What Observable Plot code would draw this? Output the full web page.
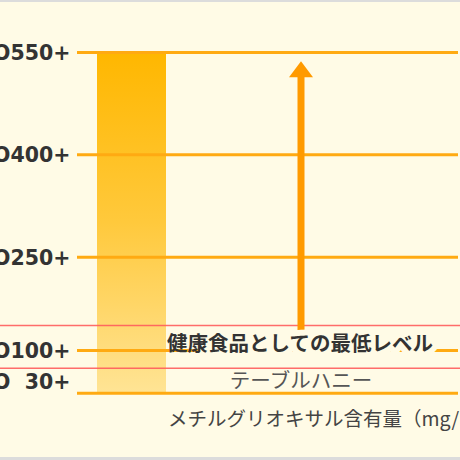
<!DOCTYPE html>
<html><head><meta charset="utf-8">
<script src="https://cdn.jsdelivr.net/npm/d3@7"></script>
<script src="https://cdn.jsdelivr.net/npm/@observablehq/plot@0.6"></script>
<style>
html,body{margin:0;padding:0;background:#dcdcdc;width:460px;height:460px;overflow:hidden}
#chart{position:absolute;left:0;top:2px;width:460px;height:455px;background:#fffbe6;overflow:hidden}
#chart svg{display:block}
</style></head><body><div id="chart"></div>
<script>
// ---- data ----
const categories = ["MGOハニー", "健康食品"];
const levels = [550, 400, 250, 100];
const levelLabels = ["MGO550+", "MGO400+", "MGO250+", "MGO100+"];
const honeyLevel = [30];
const honeyLabels = ["MGO\u200730+"];
const baseline = [0];
const barRange = [0, 550];
const redBand = [60, 140];
const arrowFrom = 130, arrowShaftTo = 520, arrowTip = 537;
const healthLabel = "健康食品としての最低レベル";
const tableLabel = "テーブルハニー";
const xLabel = "メチルグリオキサル含有量（mg/kg）";

// scale configuration (piecewise y as in the illustration)
const yDomain = [0, 30, 100, 250, 550];
const yRange = [390.7, 379, 348, 254.7, 50];

const bg = "#fffbe6";
const gridColor = "#ffaa12";
const arrowColor = "#ff9a00";

const barData = [{cat: categories[0], y1: barRange[0], y2: barRange[1]}];
const arrowData = [{cat: categories[1], y1: arrowFrom, y2: arrowShaftTo, tip: arrowTip}];
const levelData = levels.map((v, i) => ({v, label: levelLabels[i]}));
const honeyData = honeyLevel.map((v, i) => ({v, label: honeyLabels[i]}));

const arrowHead = {
  draw(ctx, size) {
    const r = Math.sqrt(size / Math.PI);
    ctx.moveTo(0, 0);
    ctx.lineTo(-r, r * 4 / 3);
    ctx.lineTo(r, r * 4 / 3);
    ctx.closePath();
  }
};

const defs = () => {
  const d = d3.create("svg:defs");
  const g = d.append("linearGradient").attr("id", "barGrad").attr("x1", 0).attr("y1", 0).attr("x2", 0).attr("y2", 1);
  g.append("stop").attr("offset", "0%").attr("stop-color", "#ffb700");
  g.append("stop").attr("offset", "50%").attr("stop-color", "#ffc93c");
  g.append("stop").attr("offset", "100%").attr("stop-color", "#ffe495");
  return d.node();
};

const healthText = {x: () => categories[1], y: () => levels[3], text: d => d, dy: -6, dx: -1,
  fontWeight: "bold", fontSize: 20.5};

const chart = Plot.plot({
  width: 460,
  height: 455,
  marginLeft: 77,
  marginRight: 2,
  marginTop: 50,
  marginBottom: 64,
  style: {background: bg, fontFamily: "'Noto Sans CJK JP', sans-serif", overflow: "hidden"},
  x: {type: "band", domain: categories, range: [97, 335.5], paddingInner: 0.593, paddingOuter: 0, align: 0, axis: null},
  y: {type: "linear", domain: yDomain, range: yRange, axis: null},
  marks: [
    defs,
    Plot.barY(barData, {x: "cat", y1: "y1", y2: "y2", fill: "url(#barGrad)"}),
    Plot.ruleY(levels, {stroke: gridColor, strokeWidth: 3}),
    Plot.ruleY(baseline, {stroke: gridColor, strokeWidth: 3}),
    Plot.ruleY(redBand, {stroke: "#ff5c5c", strokeWidth: 1.5, strokeOpacity: 0.9, insetLeft: -77, insetRight: -2}),
    Plot.ruleX(arrowData, {x: "cat", y1: "y1", y2: "y2", stroke: arrowColor, strokeWidth: 7}),
    Plot.dot(arrowData, {x: "cat", y: "tip", symbol: arrowHead, r: 12, fill: arrowColor, stroke: null}),
    Plot.text(levelData, {frameAnchor: "left", y: "v", text: "label", textAnchor: "end", dx: -7, dy: 1,
      fontFamily: "'DejaVu Sans', sans-serif", fontWeight: "bold", fontSize: 20.5, fill: "#333"}),
    Plot.text(honeyData, {frameAnchor: "left", y: "v", text: "label", textAnchor: "end", dx: -7, dy: 1,
      fontFamily: "'DejaVu Sans', sans-serif", fontWeight: "bold", fontSize: 20.5, fill: "#333"}),
    // halo behind the level label (hides the 100 line under the text)
    Plot.text([healthLabel], {...healthText, fill: "none", stroke: bg, strokeWidth: 12, strokeLinejoin: "round"}),
    Plot.text([healthLabel], {...healthText, fill: "#333"}),
    Plot.text([tableLabel], {x: () => categories[1], y: () => honeyLevel[0], text: d => d, dy: 0,
      fontSize: 20.5, fill: "#555"}),
    Plot.text([xLabel], {x: () => categories[0], y: () => baseline[0], text: d => d, textAnchor: "start", dx: 36, dy: 27,
      fontSize: 19.5, fill: "#444"})
  ]
});

// keep the halo from cutting into the bar: clip it to the right of the bar band
const xs = chart.scale("x");
const bandRight = xs.apply(categories[0]) + (xs.bandwidth || 0);
const svgNS = "http://www.w3.org/2000/svg";
const cp = document.createElementNS(svgNS, "clipPath");
cp.setAttribute("id", "haloClip");
const cr = document.createElementNS(svgNS, "rect");
cr.setAttribute("x", bandRight);
cr.setAttribute("y", 0);
cr.setAttribute("width", 460);
cr.setAttribute("height", 455);
cp.appendChild(cr);
chart.querySelector("defs").appendChild(cp);
const halo = [...chart.querySelectorAll('g[aria-label="text"]')].find(g => g.getAttribute("stroke") === bg);
if (halo) halo.setAttribute("clip-path", "url(#haloClip)");

document.getElementById("chart").appendChild(chart);
</script>
</body></html>
